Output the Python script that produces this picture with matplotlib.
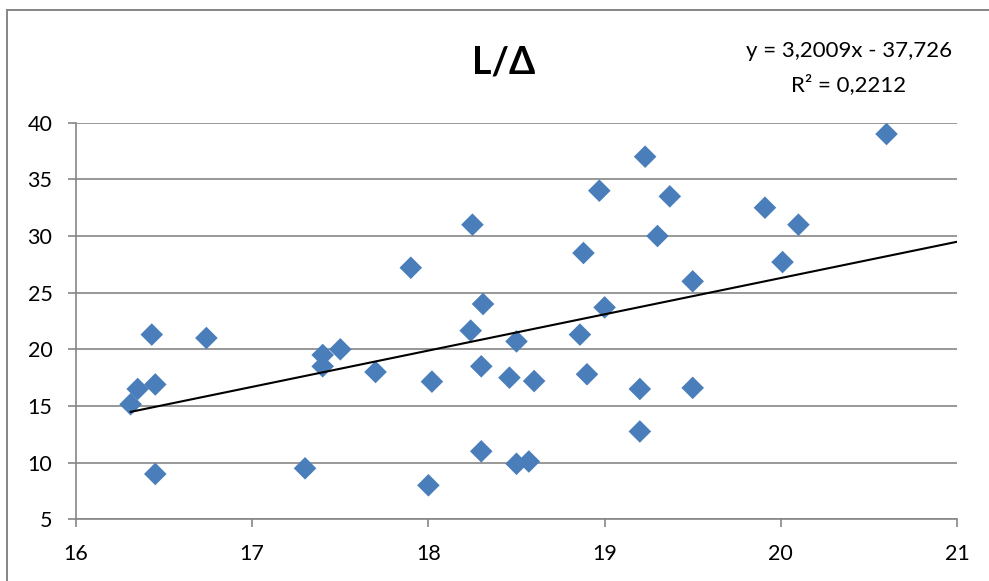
import matplotlib
matplotlib.use("Agg")
import matplotlib.pyplot as plt
from matplotlib.lines import Line2D
import numpy as np

# Data
x_vals = [16.43, 16.74, 16.35, 16.45, 16.31, 16.45, 17.30, 17.40, 17.40, 17.50,
          17.70, 17.90, 18.25, 18.31, 18.88, 18.97, 19.23, 19.37, 19.30, 19.50,
          19.00, 18.24, 18.50, 18.86, 18.30, 18.46, 18.60, 18.90, 18.02, 19.20,
          19.50, 19.20, 18.30, 18.50, 18.57, 18.00, 20.60, 19.91, 20.10, 20.01]
y_vals = [21.3, 21.0, 16.5, 16.9, 15.15, 9.0, 9.5, 19.5, 18.5, 20.0,
          18.0, 27.2, 31.0, 24.0, 28.5, 34.0, 37.0, 33.5, 30.0, 26.0,
          23.7, 21.65, 20.7, 21.3, 18.5, 17.5, 17.2, 17.8, 17.15, 16.5,
          16.6, 12.75, 11.0, 9.9, 10.1, 8.0, 39.0, 32.5, 31.0, 27.7]
trend_slope = 3.2009
trend_intercept = -37.726
r_squared = 0.2212
title = "L/Δ"
x_ticks = [16, 17, 18, 19, 20, 21]
y_ticks = [5, 10, 15, 20, 25, 30, 35, 40]

W, H = 989, 581
fig = plt.figure(figsize=(W / 100, H / 100), dpi=100)
fam = ["Lato", "DejaVu Sans"]
grey = "#868686"

# outer chart border (cropped on right/bottom)
fig.add_artist(Line2D([7 / W, 7 / W], [0, 1 - 10 / H], transform=fig.transFigure,
                      color=grey, lw=1.4))
fig.add_artist(Line2D([7 / W, 1.0], [1 - 10 / H, 1 - 10 / H], transform=fig.transFigure,
                      color=grey, lw=1.4))

left, right, top, bottom = 76, 957, 122.7, 519.3
ax = fig.add_axes([left / W, 1 - bottom / H, (right - left) / W, (bottom - top) / H])
ax.set_xlim(16, 21)
ax.set_ylim(5, 40)
ax.set_xticks(x_ticks)
ax.set_yticks(y_ticks)
ax.set_xticklabels([str(t) for t in x_ticks], family=fam, fontsize=15.5)
ax.set_yticklabels([str(t) for t in y_ticks], family=fam, fontsize=15.5)
for s in ["top", "right"]:
    ax.spines[s].set_visible(False)
for s in ["left", "bottom"]:
    ax.spines[s].set_color(grey)
    ax.spines[s].set_linewidth(1.2)
ax.tick_params(axis="both", direction="out", length=6, width=1.2, color=grey)
ax.tick_params(axis="y", pad=11)
ax.tick_params(axis="x", pad=12)
ax.yaxis.grid(True, color=grey, lw=1.2)
ax.set_axisbelow(True)

ax.scatter(x_vals, y_vals, marker="D", s=11.5 ** 2, color="#4A7EBB",
           edgecolors="none", zorder=3)

tx = np.array([min(x_vals), 21])
ax.plot(tx, trend_slope * tx + trend_intercept, color="black", lw=1.5, zorder=4)

fig.text(504 / W, 1 - 62 / H, title, family=fam, fontsize=27, fontweight="bold",
         ha="center", va="center")
eq1 = "y = {}x - {}".format(str(trend_slope).replace(".", ","),
                            str(-trend_intercept).replace(".", ","))
eq2 = "R² = {}".format(str(r_squared).replace(".", ","))
fig.text(849 / W, 1 - 51 / H, eq1, family=fam, fontsize=16,
         ha="center", va="center")
fig.text(849 / W, 1 - 85 / H, eq2, family=fam, fontsize=16,
         ha="center", va="center")

fig.savefig("out.png", dpi=100)
